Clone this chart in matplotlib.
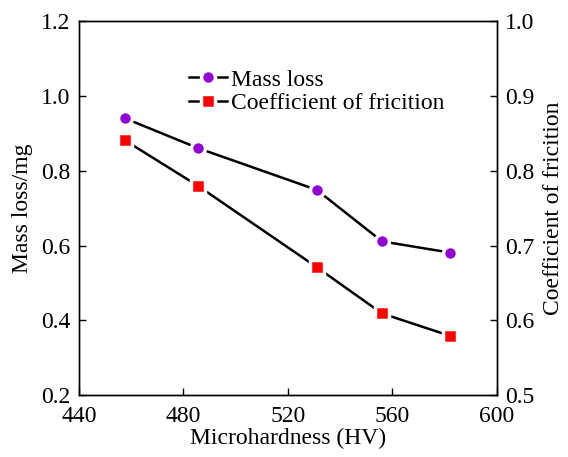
import matplotlib
matplotlib.use("Agg")
import matplotlib.pyplot as plt

# data
hv = [457.5, 485.5, 531, 556, 582]
mass_loss = [0.941, 0.861, 0.749, 0.611, 0.581]
cof = [0.841, 0.780, 0.671, 0.609, 0.579]

plt.rcParams['font.family'] = ['Liberation Serif', 'DejaVu Serif']

fig = plt.figure(figsize=(5.68, 4.57), dpi=100)
ax = fig.add_axes([0.139, 0.136, 0.736, 0.817])
ax2 = ax.twinx()

l1, = ax.plot(hv, mass_loss, color='black', lw=1.8, marker='o', markersize=10,
              markerfacecolor='#9400D3', markeredgecolor='white', markeredgewidth=2.5,
              label='Mass loss')
l2, = ax2.plot(hv, cof, color='black', lw=1.8, marker='s', markersize=9.5,
               markerfacecolor='#FF0000', markeredgecolor='white', markeredgewidth=2.5,
               label='Coefficient of fricition')

ax.set_xlim(440, 600)
ax.set_ylim(0.2, 1.2)
ax2.set_ylim(0.5, 1.0)
ax.set_xticks([440, 480, 520, 560, 600])
ax.set_yticks([0.2, 0.4, 0.6, 0.8, 1.0, 1.2])
ax2.set_yticks([0.5, 0.6, 0.7, 0.8, 0.9, 1.0])
ax.yaxis.set_major_formatter(matplotlib.ticker.FormatStrFormatter('%.1f'))
ax2.yaxis.set_major_formatter(matplotlib.ticker.FormatStrFormatter('%.1f'))

for a in (ax, ax2):
    a.tick_params(direction='in', length=5, width=1, labelsize=17, pad=6)
    for s in a.spines.values():
        s.set_linewidth(1.0)
ax.tick_params(axis='x', pad=8)

ax.set_xlabel('Microhardness (HV)', fontsize=17, labelpad=1)
ax.set_ylabel('Mass loss/mg', fontsize=17, labelpad=6)
ax2.set_ylabel('Coefficient of fricition', fontsize=17, labelpad=6, rotation=90)

ax.legend(handles=[l1, l2], loc='upper left', bbox_to_anchor=(0.24, 0.898),
          frameon=False, fontsize=17, handlelength=1.6, handletextpad=0.2,
          labelspacing=0.1, borderaxespad=0)

fig.savefig('out.png', dpi=100)
